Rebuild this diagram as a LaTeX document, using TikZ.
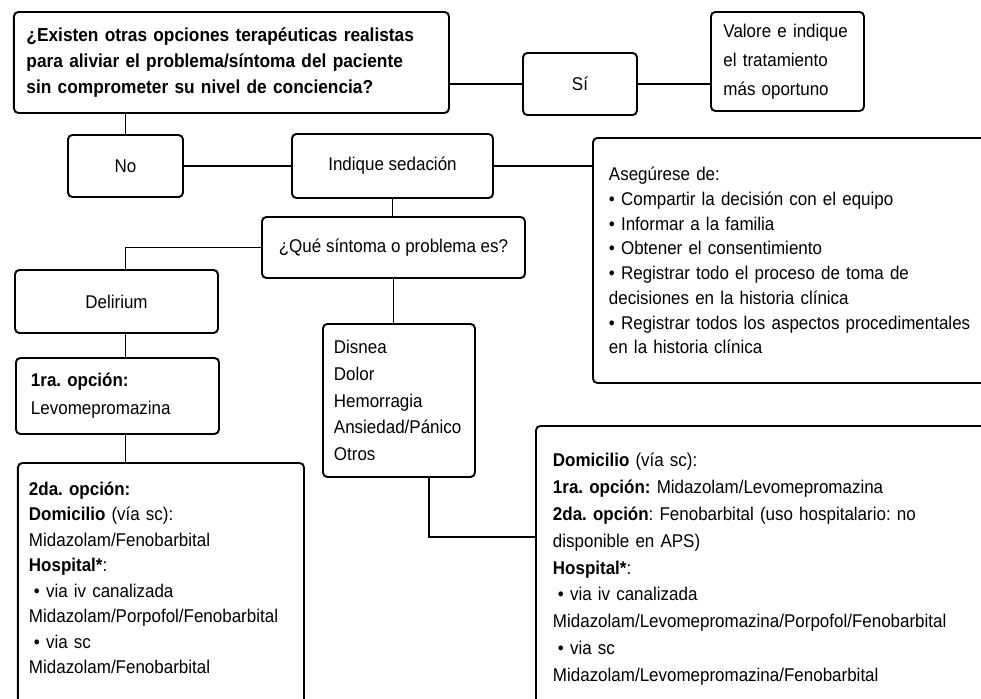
\documentclass[tikz,border=0pt]{standalone}
\usepackage{fontspec}
\setmainfont{Liberation Sans}[FakeStretch=0.92]
\usetikzlibrary{calc}
\frenchspacing

\begin{document}
\begin{tikzpicture}[
    caja/.style={draw, line width=1.1pt, rounded corners=2.5pt, inner xsep=0.25cm, inner ysep=0pt, anchor=north west, font=\fontsize{10.5}{14.5}\selectfont},
    izq/.style={align=left, text width=#1},
    centro/.style={caja, anchor=center, align=center},
    linea/.style={line width=1.1pt},
  ]
    \useasboundingbox (0,0) rectangle (19.62,-13.96);
    \clip (0,0) rectangle (19.62,-13.96);

    \coordinate (giro) at (8.58,-10.74);

    \node[caja, izq=8.2cm, minimum height=2.02cm, font=\bfseries\fontsize{10.7}{14.7}\selectfont] (Q) at (0.26,-0.22)
      {¿Existen otras opciones terapéuticas realistas\\para aliviar el problema/síntoma del paciente\\sin comprometer su nivel de conciencia?};
    \node[centro, minimum width=2.28cm, minimum height=1.24cm] (Si) at (11.6,-1.68) {Sí};
    \node[caja, izq=2.56cm, minimum height=1.98cm, font=\fontsize{10.5}{16.5}\selectfont] (Val) at (14.2,-0.22)
      {Valore e indique\\el tratamiento\\más oportuno};

    \node[centro, minimum width=2.3cm, minimum height=1.24cm] (No) at (2.51,-3.32) {No};
    \node[centro, minimum width=4.02cm, minimum height=1.28cm] (Ind) at (7.85,-3.32) {Indique sedación};
    \node[caja, inner xsep=0.32cm, izq=8.2cm, minimum height=4.9cm, font=\fontsize{10.5}{14.1}\selectfont] (Ase) at (11.84,-2.74)
      {Asegúrese de:\\
       \textbullet{} Compartir la decisión con el equipo\\
       \textbullet{} Informar a la familia\\
       \textbullet{} Obtener el consentimiento\\
       \textbullet{} Registrar todo el proceso de toma de\\
       decisiones en la historia clínica\\
       \textbullet{} Registrar todos los aspectos procedimentales\\
       en la historia clínica};

    \node[centro, minimum width=5.26cm, minimum height=1.22cm] (Que) at (7.87,-4.95) {¿Qué síntoma o problema es?};
    \node[centro, minimum width=4.06cm, minimum height=1.26cm] (Del) at (2.33,-6.03) {Delirium};
    \node[caja, inner xsep=0.3cm, izq=3.46cm, minimum height=1.52cm, font=\fontsize{10.5}{15.9}\selectfont] (Op1) at (0.3,-7.14)
      {\textbf{1ra. opción:}\\Levomepromazina};
    \node[caja, inner xsep=0.22cm, inner ysep=0.38cm, izq=5.28cm] (Op2) at (0.34,-9.24)
      {\textbf{2da. opción:}\\
       \textbf{Domicilio} (vía sc):\\
       Midazolam/Fenobarbital\\
       \textbf{Hospital*}:\\
       \hspace{0.1cm}\textbullet{} via iv canalizada\\
       Midazolam/Porpofol/Fenobarbital\\
       \hspace{0.1cm}\textbullet{} via sc\\
       Midazolam/Fenobarbital\\[2cm]\mbox{}};

    \node[caja, inner xsep=0.22cm, izq=2.6cm, minimum height=3.06cm, font=\fontsize{10.5}{15.3}\selectfont] (Dis) at (6.44,-6.46)
      {Disnea\\Dolor\\Hemorragia\\Ansiedad/Pánico\\Otros};
    \node[caja, inner xsep=0.34cm, inner ysep=0.54cm, izq=9cm, font=\fontsize{10.5}{15.3}\selectfont] (Dom) at (10.7,-8.5)
      {\textbf{Domicilio} (vía sc):\\
       \textbf{1ra. opción:} Midazolam/Levomepromazina\\
       \textbf{2da. opción}: Fenobarbital (uso hospitalario: no\\
       disponible en APS)\\
       \textbf{Hospital*}:\\
       \hspace{0.1cm}\textbullet{} via iv canalizada\\
       Midazolam/Levomepromazina/Porpofol/Fenobarbital\\
       \hspace{0.1cm}\textbullet{} via sc\\
       Midazolam/Levomepromazina/Fenobarbital\\[2cm]\mbox{}};

    \draw[linea] (No.north) -- (No.north |- Q.south);
    \draw[linea] (Si.west) -- (Si.west -| Q.east);
    \draw[linea] (Si.east) -- (Si.east -| Val.west);
    \draw[linea] (No.east) -- (Ind.west);
    \draw[linea] (Ind.east) -- (Ind.east -| Ase.west);
    \draw[linea] (Ind.south) -- (Ind.south |- Que.north);
    \draw[linea] (Que.west) -| (Del.north -| No.south);
    \draw[linea] (Del.south -| No.south) -- (Op1.north -| No.south);
    \draw[linea] (Op1.south -| No.south) -- (Op2.north -| No.south);
    \draw[linea] (Que.south) -- (Que.south |- Dis.north);
    \draw[linea] (Dis.south -| giro) |- (giro -| Dom.west);
\end{tikzpicture}
\end{document}
